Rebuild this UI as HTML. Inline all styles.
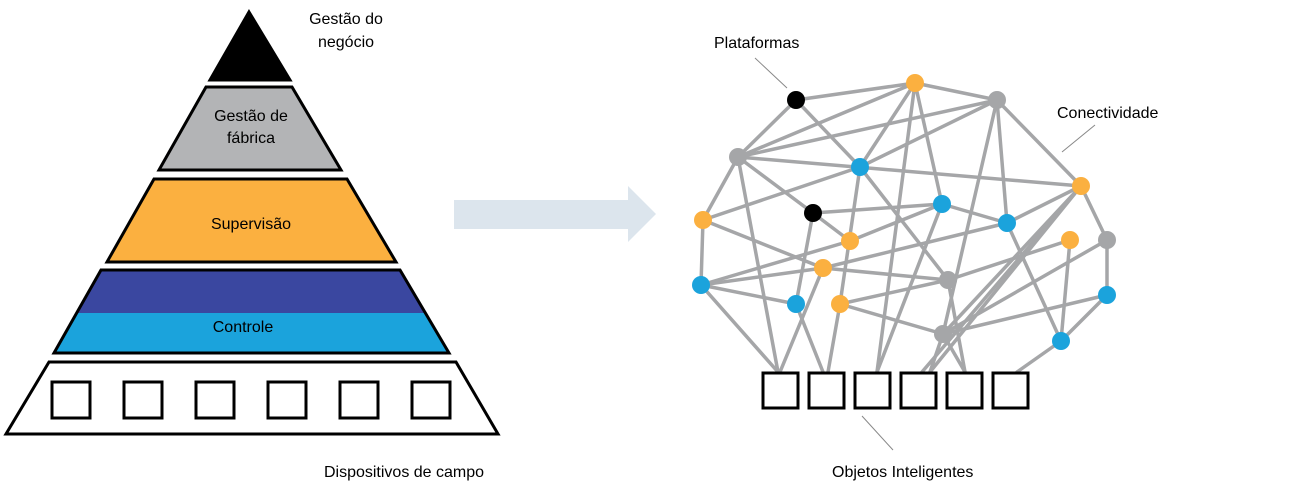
<!DOCTYPE html>
<html><head><meta charset="utf-8"><style>
html,body{margin:0;padding:0;background:#fff;}
svg text{font-family:"Liberation Sans",Arial,sans-serif;font-size:16px;fill:#000;}
</style></head><body>
<svg width="1292" height="496" viewBox="0 0 1292 496" xmlns="http://www.w3.org/2000/svg">
<g stroke="#000" stroke-width="3" stroke-linejoin="miter">
<polygon points="249,12 290,80 210,80" fill="#000"/>
<polygon points="206,87 292,87 341,170 159,170" fill="#b3b4b6"/>
<polygon points="154,179 347,179 396,262 107,262" fill="#fbb040"/>
<polygon points="101,270 400,270 424,313 78,313" fill="#3a47a0" stroke="none"/>
<polygon points="78,313 424,313 449,353 54,353" fill="#1ba3dc" stroke="none"/>
<polygon points="101,270 400,270 449,353 54,353" fill="none"/>
<polygon points="49,362 456,362 498,434 6,434" fill="#fff"/>
<rect x="52" y="382" width="38" height="36" fill="none"/>
<rect x="124" y="382" width="38" height="36" fill="none"/>
<rect x="196" y="382" width="38" height="36" fill="none"/>
<rect x="268" y="382" width="38" height="36" fill="none"/>
<rect x="340" y="382" width="38" height="36" fill="none"/>
<rect x="412" y="382" width="38" height="36" fill="none"/>
</g>
<text x="346" y="24" text-anchor="middle">Gestão do</text>
<text x="346" y="47" text-anchor="middle">negócio</text>
<text x="251" y="121" text-anchor="middle">Gestão de</text>
<text x="251" y="143" text-anchor="middle">fábrica</text>
<text x="251" y="229" text-anchor="middle">Supervisão</text>
<text x="243" y="332" text-anchor="middle">Controle</text>
<text x="404" y="477" text-anchor="middle">Dispositivos de campo</text>
<polygon points="454,200 628,200 628,186 656,214 628,242 628,229 454,229" fill="#dce5ed"/>
<g stroke="#a5a6a8" stroke-width="3.5" stroke-linecap="round">
<line x1="796" y1="100" x2="915" y2="83"/><line x1="796" y1="100" x2="738" y2="157"/><line x1="796" y1="100" x2="860" y2="167"/>
<line x1="915" y1="83" x2="738" y2="157"/><line x1="915" y1="83" x2="860" y2="167"/><line x1="915" y1="83" x2="997" y2="100"/>
<line x1="915" y1="83" x2="877" y2="372"/><line x1="915" y1="83" x2="942" y2="204"/>
<line x1="997" y1="100" x2="738" y2="157"/><line x1="997" y1="100" x2="860" y2="167"/><line x1="997" y1="100" x2="1081" y2="186"/>
<line x1="997" y1="100" x2="1007" y2="223"/><line x1="997" y1="100" x2="943" y2="334"/>
<line x1="738" y1="157" x2="703" y2="220"/><line x1="738" y1="157" x2="1081" y2="186"/><line x1="738" y1="157" x2="778" y2="372"/>
<line x1="738" y1="157" x2="813" y2="213"/>
<line x1="860" y1="167" x2="703" y2="220"/><line x1="860" y1="167" x2="840" y2="304"/><line x1="860" y1="167" x2="948" y2="280"/>
<line x1="703" y1="220" x2="701" y2="285"/><line x1="703" y1="220" x2="823" y2="268"/>
<line x1="813" y1="213" x2="942" y2="204"/><line x1="813" y1="213" x2="850" y2="241"/><line x1="813" y1="213" x2="796" y2="304"/>
<line x1="850" y1="241" x2="942" y2="204"/>
<line x1="942" y1="204" x2="1007" y2="223"/><line x1="942" y1="204" x2="877" y2="372"/>
<line x1="1007" y1="223" x2="823" y2="268"/><line x1="1007" y1="223" x2="1061" y2="341"/><line x1="1007" y1="223" x2="1081" y2="186"/>
<line x1="1081" y1="186" x2="922" y2="372"/><line x1="1081" y1="186" x2="930" y2="372"/><line x1="1081" y1="186" x2="1107" y2="240"/><line x1="1081" y1="186" x2="943" y2="334"/>
<line x1="1070" y1="240" x2="948" y2="280"/><line x1="1070" y1="240" x2="1061" y2="341"/>
<line x1="1107" y1="240" x2="1107" y2="295"/><line x1="1107" y1="240" x2="943" y2="334"/>
<line x1="1107" y1="295" x2="943" y2="334"/><line x1="1107" y1="295" x2="1061" y2="341"/>
<line x1="701" y1="285" x2="823" y2="268"/><line x1="701" y1="285" x2="796" y2="304"/><line x1="701" y1="285" x2="778" y2="372"/><line x1="701" y1="285" x2="850" y2="241"/>
<line x1="823" y1="268" x2="948" y2="280"/><line x1="823" y1="268" x2="780" y2="372"/>
<line x1="796" y1="304" x2="823" y2="372"/>
<line x1="840" y1="304" x2="948" y2="280"/><line x1="840" y1="304" x2="943" y2="334"/><line x1="840" y1="304" x2="828" y2="372"/>
<line x1="948" y1="280" x2="965" y2="372"/>
<line x1="943" y1="334" x2="930" y2="372"/><line x1="943" y1="334" x2="965" y2="372"/>
<line x1="1061" y1="341" x2="1017" y2="372"/>
</g>
<g stroke="#000" stroke-width="3" fill="#fff">
<rect x="763" y="373" width="35" height="35"/><rect x="809" y="373" width="35" height="35"/>
<rect x="855" y="373" width="35" height="35"/><rect x="901" y="373" width="35" height="35"/>
<rect x="947" y="373" width="35" height="35"/><rect x="993" y="373" width="35" height="35"/>
</g>
<g>
<circle cx="796" cy="100" r="9" fill="#000"/><circle cx="813" cy="213" r="9" fill="#000"/>
<g fill="#fbb040"><circle cx="915" cy="83" r="9"/><circle cx="1081" cy="186" r="9"/><circle cx="703" cy="220" r="9"/><circle cx="850" cy="241" r="9"/><circle cx="1070" cy="240" r="9"/><circle cx="823" cy="268" r="9"/><circle cx="840" cy="304" r="9"/></g>
<g fill="#a5a6a8"><circle cx="997" cy="100" r="9"/><circle cx="738" cy="157" r="9"/><circle cx="1107" cy="240" r="9"/><circle cx="948" cy="280" r="9"/><circle cx="943" cy="334" r="9"/></g>
<g fill="#1ba3dc"><circle cx="860" cy="167" r="9"/><circle cx="942" cy="204" r="9"/><circle cx="1007" cy="223" r="9"/><circle cx="701" cy="285" r="9"/><circle cx="796" cy="304" r="9"/><circle cx="1107" cy="295" r="9"/><circle cx="1061" cy="341" r="9"/></g>
</g>
<g stroke="#888" stroke-width="1">
<line x1="755" y1="58" x2="787" y2="88"/><line x1="1095" y1="125" x2="1062" y2="152"/><line x1="862" y1="416" x2="893" y2="450"/>
</g>
<text x="714" y="48">Plataformas</text>
<text x="1057" y="118">Conectividade</text>
<text x="832" y="477">Objetos Inteligentes</text>
</svg>
</body></html>
